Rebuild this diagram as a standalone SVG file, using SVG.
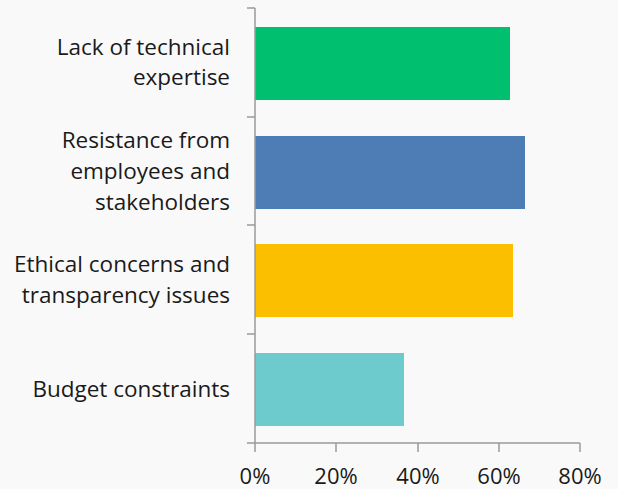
<svg xmlns="http://www.w3.org/2000/svg" width="618" height="489" viewBox="0 0 618 489">
<style>
.lbl{font-family:"Open Sans","Noto Sans",sans-serif;font-size:22.5px;fill:#1a1a1a;text-anchor:end}
.tk{font-family:"Open Sans","Noto Sans",sans-serif;font-size:22px;fill:#1a1a1a;text-anchor:middle}
.ax{stroke:#9a9a9a;stroke-width:1.5;fill:none}
</style>
<rect width="618" height="489" fill="#f9f9f9"/>
<g id="bars">
<rect id="bar1" x="255" y="27" width="255" height="73" fill="#00bf6f"/>
<rect id="bar2" x="255" y="136" width="270" height="73" fill="#4e7db5"/>
<rect id="bar3" x="255" y="244" width="258" height="73" fill="#fbbf00"/>
<rect id="bar4" x="255" y="353" width="149" height="73" fill="#6dcacd"/>
</g>
<g id="axes" class="ax">
<path d="M255 8V443M247 8H255M247 117H255M247 225H255M247 334H255"/>
<path d="M247 443H580M255 443V452M336 443V452M418 443V452M499 443V452M580 443V452"/>
</g>
<g id="labels">
<text class="lbl" x="230" y="55">Lack of technical</text>
<text class="lbl" x="230" y="85">expertise</text>
<text class="lbl" x="230" y="148">Resistance from</text>
<text class="lbl" x="230" y="179">employees and</text>
<text class="lbl" x="230" y="210">stakeholders</text>
<text class="lbl" x="230" y="272">Ethical concerns and</text>
<text class="lbl" x="230" y="303">transparency issues</text>
<text class="lbl" x="230" y="397">Budget constraints</text>
</g>
<g id="ticks">
<text class="tk" x="255" y="484">0%</text>
<text class="tk" x="336" y="484">20%</text>
<text class="tk" x="418" y="484">40%</text>
<text class="tk" x="499" y="484">60%</text>
<text class="tk" x="580" y="484">80%</text>
</g>
</svg>
